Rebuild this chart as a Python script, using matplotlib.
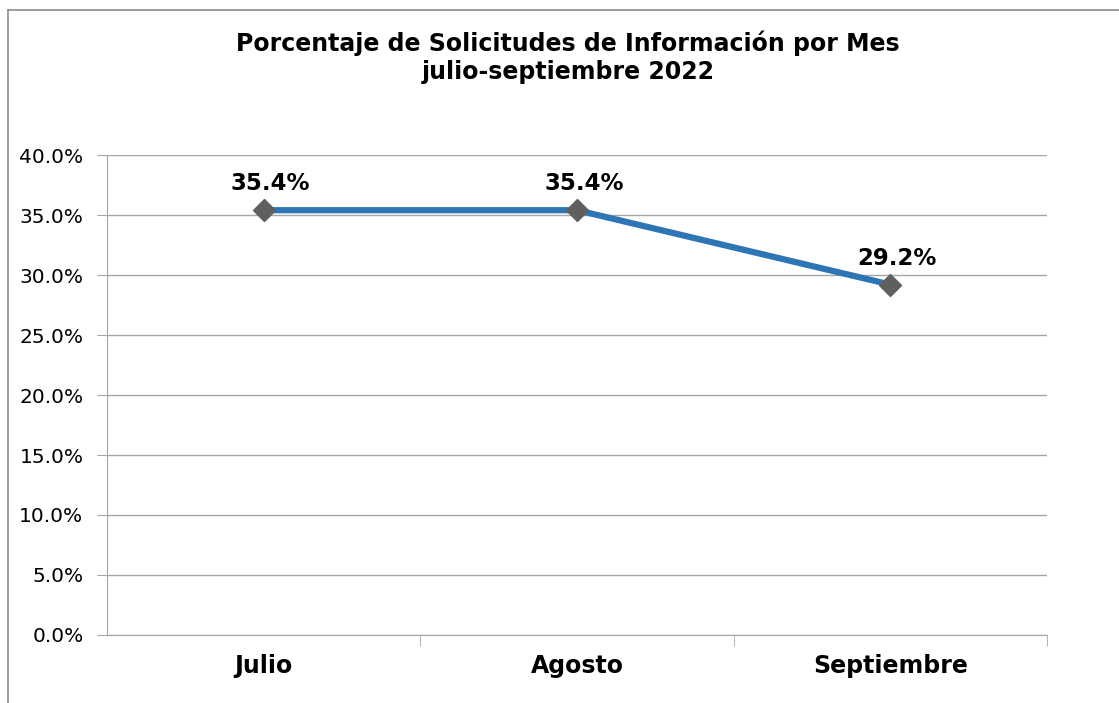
import matplotlib
matplotlib.use("Agg")
import matplotlib.pyplot as plt
from matplotlib.ticker import FuncFormatter, MultipleLocator
from matplotlib.lines import Line2D

categories = ["Julio", "Agosto", "Septiembre"]
values = [35.4, 35.4, 29.2]
labels = ["35.4%", "35.4%", "29.2%"]
title = "Porcentaje de Solicitudes de Información por Mes\njulio-septiembre 2022"

W, H = 1119, 703
fig = plt.figure(figsize=(W / 100, H / 100), dpi=100)
plt.rcParams['font.family'] = ['DejaVu Sans']

ax = fig.add_axes([107 / W, 1 - 635 / H, (1047 - 107) / W, (635 - 155) / H])
x = list(range(len(categories)))
ax.plot(x, values, color="#2E75B6", linewidth=4.5, marker="D", markersize=11,
        markerfacecolor="#5F5F5F", markeredgecolor="#5F5F5F", zorder=3)
for xi, v, t in zip(x, values, labels):
    ax.annotate(t, (xi, v), xytext=(5, 19), textcoords="offset points",
                ha="center", va="center", fontsize=16.5, fontweight="bold")

ax.set_xlim(-0.5, 2.5)
ax.set_ylim(0, 40)
ax.yaxis.set_major_locator(MultipleLocator(5))
ax.yaxis.set_major_formatter(FuncFormatter(lambda v, p: f"{v:.1f}%"))
ax.grid(axis="y", color="#A6A6A6", linewidth=1)
ax.set_axisbelow(True)
for s in ["top", "right"]:
    ax.spines[s].set_visible(False)
ax.spines["left"].set_color("#A6A6A6")
ax.spines["bottom"].set_color("#A6A6A6")
ax.tick_params(axis="y", length=7, color="#A6A6A6", labelsize=14.5, pad=10)
ax.set_xticks(x)
ax.set_xticklabels(categories, fontsize=17, fontweight="bold")
ax.tick_params(axis="x", length=0, pad=14)
ax.set_xticks([0.5, 1.5, 2.5], minor=True)
ax.tick_params(axis="x", which="minor", length=8, color="#A6A6A6")

fig.text(568 / W, 1 - 57.5 / H, title, ha="center", va="center", fontsize=17,
         fontweight="bold", linespacing=1.2)

# figure border (top and left)
fig.add_artist(Line2D([8 / W, 1], [1 - 10 / H, 1 - 10 / H], color="#8C8C8C", linewidth=1.2))
fig.add_artist(Line2D([8 / W, 8 / W], [0, 1 - 10 / H], color="#8C8C8C", linewidth=1.2))

fig.savefig("out.png", dpi=100)
